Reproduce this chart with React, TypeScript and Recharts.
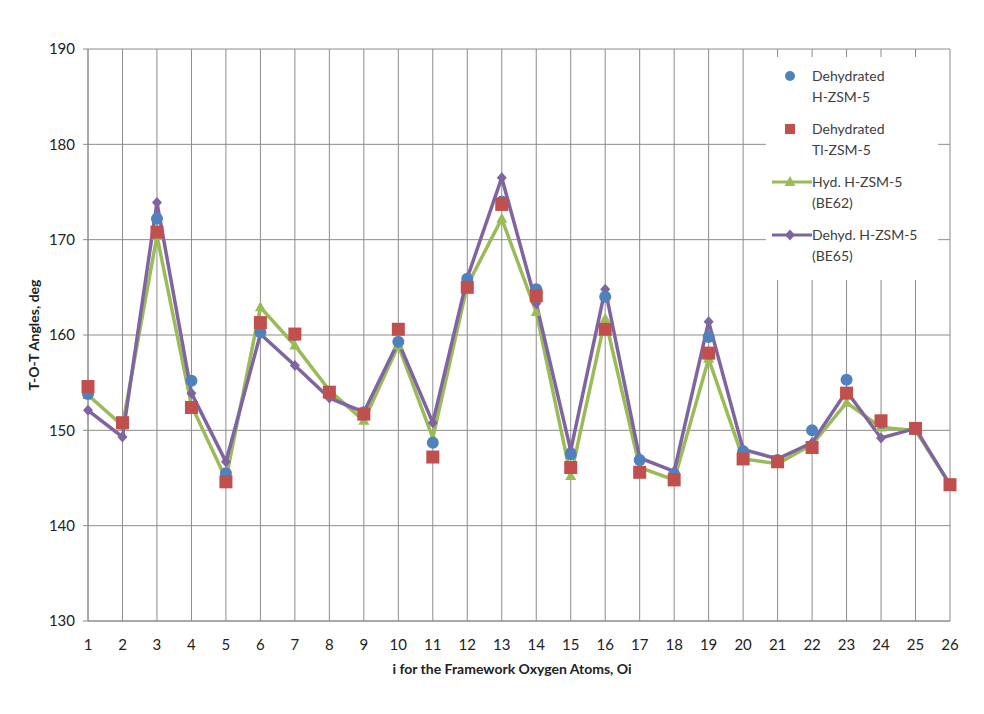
import React from 'react';
import { LineChart, Line, XAxis, YAxis, CartesianGrid } from 'recharts';

const oxygenIndex = [1, 2, 3, 4, 5, 6, 7, 8, 9, 10, 11, 12, 13, 14, 15, 16, 17, 18, 19, 20, 21, 22, 23, 24, 25, 26];
const dehydratedH = [153.8, 150.7, 172.2, 155.2, 145.5, 160.3, 160.0, 153.8, 151.9, 159.3, 148.7, 165.9, 174.0, 164.8, 147.5, 164.0, 146.9, 145.4, 159.8, 147.8, 146.9, 150.0, 155.3, 150.8, 150.2, 144.3];
const dehydratedTl = [154.6, 150.8, 170.8, 152.4, 144.6, 161.3, 160.1, 154.0, 151.7, 160.6, 147.2, 165.0, 173.7, 164.1, 146.1, 160.6, 145.6, 144.8, 158.1, 147.0, 146.7, 148.2, 153.9, 151.0, 150.2, 144.3];
const hydBE62 = [153.7, 150.5, 170.4, 152.6, 144.9, 162.9, 158.9, 154.2, 151.0, 158.9, 149.2, 165.2, 172.2, 162.4, 145.2, 161.7, 146.1, 144.8, 157.5, 147.0, 146.5, 148.5, 152.9, 150.3, 150.0, 144.3];
const dehydBE65 = [152.1, 149.3, 173.9, 153.9, 146.7, 160.1, 156.8, 153.4, 151.9, 159.3, 150.8, 166.0, 176.5, 163.3, 147.9, 164.8, 147.1, 145.7, 161.4, 148.0, 147.0, 148.7, 154.1, 149.2, 150.2, 144.3];
const yTicks = [130, 140, 150, 160, 170, 180, 190];

const data = oxygenIndex.map((i, k) => ({
  i,
  dehH: dehydratedH[k],
  dehTl: dehydratedTl[k],
  hyd62: hydBE62[k],
  dehyd65: dehydBE65[k],
}));

const BLUE = '#4F81BD';
const RED = '#C0504D';
const GREEN = '#9BBB59';
const PURPLE = '#8064A2';
const FONT = 'Lato, "Liberation Sans", sans-serif';

const circleDot = (p: any) =>
  p.cx == null ? null : <circle key={`c${p.index}`} cx={p.cx} cy={p.cy} r={6} fill={BLUE} />;
const squareDot = (p: any) =>
  p.cx == null ? null : <rect key={`s${p.index}`} x={p.cx - 6.5} y={p.cy - 6.5} width={13} height={13} fill={RED} />;
const triangleDot = (p: any) =>
  p.cx == null ? null : (
    <polygon key={`t${p.index}`} points={`${p.cx},${p.cy - 6} ${p.cx - 5.5},${p.cy + 4} ${p.cx + 5.5},${p.cy + 4}`} fill={GREEN} />
  );
const diamondDot = (p: any) =>
  p.cx == null ? null : (
    <polygon key={`d${p.index}`} points={`${p.cx},${p.cy - 5.5} ${p.cx + 5},${p.cy} ${p.cx},${p.cy + 5.5} ${p.cx - 5},${p.cy}`} fill={PURPLE} />
  );

const legendItems = [
  { lines: ['Dehydrated', 'H-ZSM-5'], kind: 'circle' },
  { lines: ['Dehydrated', 'Tl-ZSM-5'], kind: 'square' },
  { lines: ['Hyd. H-ZSM-5', '(BE62)'], kind: 'tri' },
  { lines: ['Dehyd. H-ZSM-5', '(BE65)'], kind: 'diamond' },
];

const LegendBox = () => (
  <svg width={172} height={223} style={{ display: 'block' }}>
    {legendItems.map((item, k) => {
      const y = 19 + k * 53;
      let marker: React.ReactNode = null;
      if (item.kind === 'circle') marker = <circle cx={24} cy={y} r={5} fill={BLUE} />;
      if (item.kind === 'square') marker = <rect x={19} y={y - 5} width={10} height={10} fill={RED} />;
      if (item.kind === 'tri')
        marker = (
          <g>
            <line x1={6} x2={46} y1={y} y2={y} stroke={GREEN} strokeWidth={3} />
            <polygon points={`24,${y - 6} 18.5,${y + 4} 29.5,${y + 4}`} fill={GREEN} />
          </g>
        );
      if (item.kind === 'diamond')
        marker = (
          <g>
            <line x1={6} x2={46} y1={y} y2={y} stroke={PURPLE} strokeWidth={3} />
            <polygon points={`24,${y - 5.5} 29,${y} 24,${y + 5.5} 19,${y}`} fill={PURPLE} />
          </g>
        );
      return (
        <g key={k}>
          {marker}
          {item.lines.map((t, j) => (
            <text key={j} x={46} y={y + 5 + j * 21} fontSize={14} fill="#404040" fontFamily={FONT}>
              {t}
            </text>
          ))}
        </g>
      );
    })}
  </svg>
);

export default function App() {
  return (
    <div style={{ position: 'absolute', left: 0, top: 0, width: 984, height: 714, background: '#fff', fontFamily: FONT }}>
      <LineChart width={984} height={714} data={data} margin={{ top: 49, right: 34, left: 10, bottom: 63 }}>
        <CartesianGrid stroke="#8c8c8c" strokeWidth={1} />
        <XAxis
          dataKey="i"
          type="number"
          domain={[1, 26]}
          ticks={oxygenIndex}
          interval={0}
          height={30}
          stroke="#8c8c8c"
          tickLine={false}
          tick={{ fill: '#222', fontSize: 15, fontFamily: FONT, dy: 10 }}
        />
        <YAxis
          type="number"
          domain={[130, 190]}
          ticks={yTicks}
          interval={0}
          width={78}
          stroke="#8c8c8c"
          tickSize={5}
          tick={{ fill: '#222', fontSize: 15, fontFamily: FONT, dx: -6 }}
        />
        <Line dataKey="hyd62" stroke={GREEN} strokeWidth={3.5} dot={triangleDot} activeDot={false} isAnimationActive={false} />
        <Line dataKey="dehyd65" stroke={PURPLE} strokeWidth={3.5} dot={diamondDot} activeDot={false} isAnimationActive={false} />
        <Line dataKey="dehH" stroke="none" strokeWidth={0} dot={circleDot} activeDot={false} isAnimationActive={false} />
        <Line dataKey="dehTl" stroke="none" strokeWidth={0} dot={squareDot} activeDot={false} isAnimationActive={false} />
      </LineChart>
      <div style={{ position: 'absolute', left: 766, top: 57, width: 172, height: 223, background: '#fff' }}>
        <LegendBox />
      </div>
      <div
        style={{
          position: 'absolute',
          left: 0,
          top: 660,
          width: 1024,
          textAlign: 'center',
          fontSize: 14,
          fontWeight: 'bold',
          color: '#222',
        }}
      >
        i for the Framework Oxygen Atoms, Oi
      </div>
      <div
        style={{
          position: 'absolute',
          left: 33,
          top: 335,
          transform: 'translate(-50%, -50%) rotate(-90deg)',
          whiteSpace: 'nowrap',
          fontSize: 14,
          fontWeight: 'bold',
          color: '#222',
        }}
      >
        T-O-T Angles, deg
      </div>
    </div>
  );
}
